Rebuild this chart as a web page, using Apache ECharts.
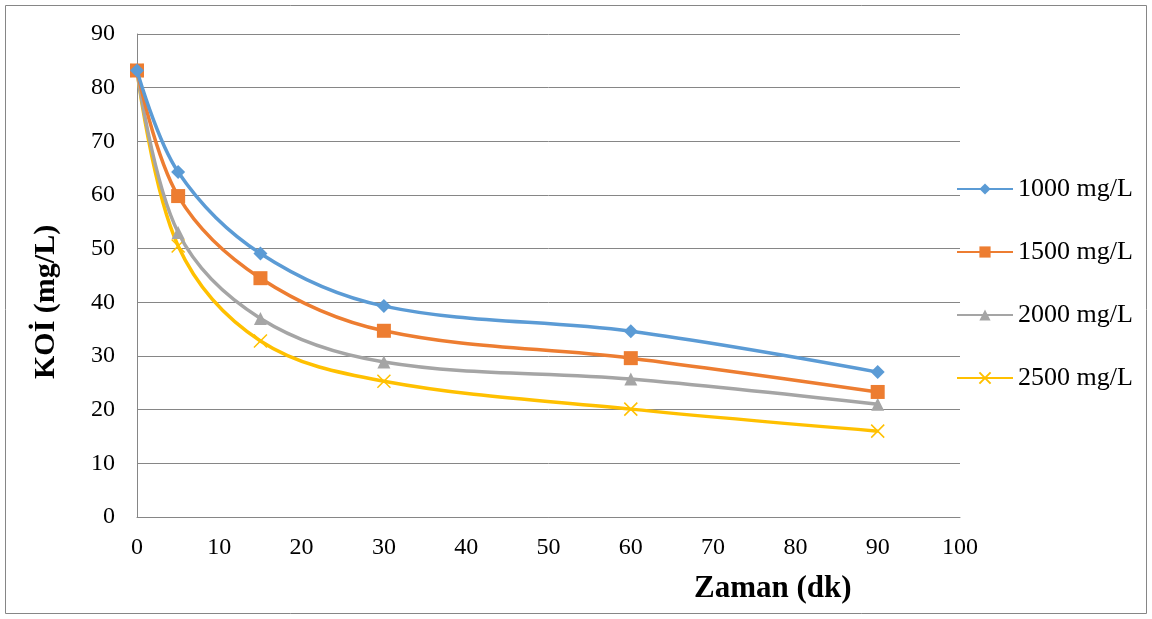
<!DOCTYPE html>
<html><head><meta charset="utf-8">
<script src="https://cdn.jsdelivr.net/npm/echarts@6/dist/echarts.min.js"></script>
<style>html,body{margin:0;padding:0;background:#fff}#c{width:1152px;height:619px}</style>
</head><body><div id="c"></div>
<script>
const times = [0, 5, 15, 30, 60, 90];
const seriesNames = ['1000 mg/L', '1500 mg/L', '2000 mg/L', '2500 mg/L'];
const s1000 = [83.2, 64.3, 49.1, 39.3, 34.6, 27.0];
const s1500 = [83.2, 59.8, 44.5, 34.7, 29.6, 23.3];
const s2000 = [83.2, 53.0, 37.0, 28.9, 25.7, 21.0];
const s2500 = [83.2, 50.5, 32.8, 25.3, 20.1, 16.0];
const colors = ['#5B9BD5', '#ED7D31', '#A5A5A5', '#FFC000'];
const xTitle = 'Zaman (dk)';
const yTitle = 'KOİ (mg/L)';

const font = '"Liberation Serif", "Times New Roman", serif';
const pair = (arr) => times.map((t, i) => [t, arr[i]]);
const symbols = ['diamond', 'rect', 'triangle', 'path://M0,0L10,10M10,0L0,10'];
const sizes = [14, 14, 13, 13];
const all = [s1000, s1500, s2000, s2500];

const chart = echarts.init(document.getElementById('c'));
chart.setOption({
  animation: false,
  backgroundColor: '#fff',
  grid: {left: 137, right: 192, top: 34, bottom: 102},
  legend: {
    orient: 'vertical', left: 951, top: 171, itemGap: 37, itemWidth: 56, itemHeight: 14,
    textStyle: {fontFamily: font, fontSize: 26, color: '#000'},
    data: seriesNames
  },
  xAxis: {
    type: 'value', min: 0, max: 100, interval: 10,
    axisLine: {show: true, lineStyle: {color: '#868686', width: 1}},
    axisTick: {show: false},
    splitLine: {show: false},
    axisLabel: {fontFamily: font, fontSize: 24, color: '#000', margin: 19}
  },
  yAxis: {
    type: 'value', min: 0, max: 90, interval: 10,
    axisLine: {show: true, lineStyle: {color: '#868686', width: 1}},
    axisTick: {show: false},
    splitLine: {show: true, lineStyle: {color: '#868686', width: 1}},
    axisLabel: {fontFamily: font, fontSize: 24, color: '#000', margin: 22}
  },
  series: all.map((arr, i) => ({
    name: seriesNames[i], type: 'line', smooth: 0.35,
    data: pair(arr), symbol: symbols[i], symbolSize: sizes[i],
    lineStyle: {color: colors[i], width: 3.5},
    itemStyle: i === 3 ? {color: 'rgba(0,0,0,0)', borderColor: colors[i], borderWidth: 1.5} : {color: colors[i], borderWidth: 0},
    z: 10 - i
  })),
  graphic: [
    {type: 'rect', shape: {x: 5.5, y: 5.5, width: 1141, height: 608}, style: {fill: 'none', stroke: '#868686', lineWidth: 1}, silent: true, z: -1},
    {type: 'text', left: 694, top: 573, style: {text: xTitle, font: 'bold 31px ' + font, fill: '#000'}},
    {type: 'text', x: 31, y: 379, rotation: Math.PI / 2, style: {text: yTitle, font: 'bold 30px ' + font, fill: '#000'}}
  ]
});
</script></body></html>
